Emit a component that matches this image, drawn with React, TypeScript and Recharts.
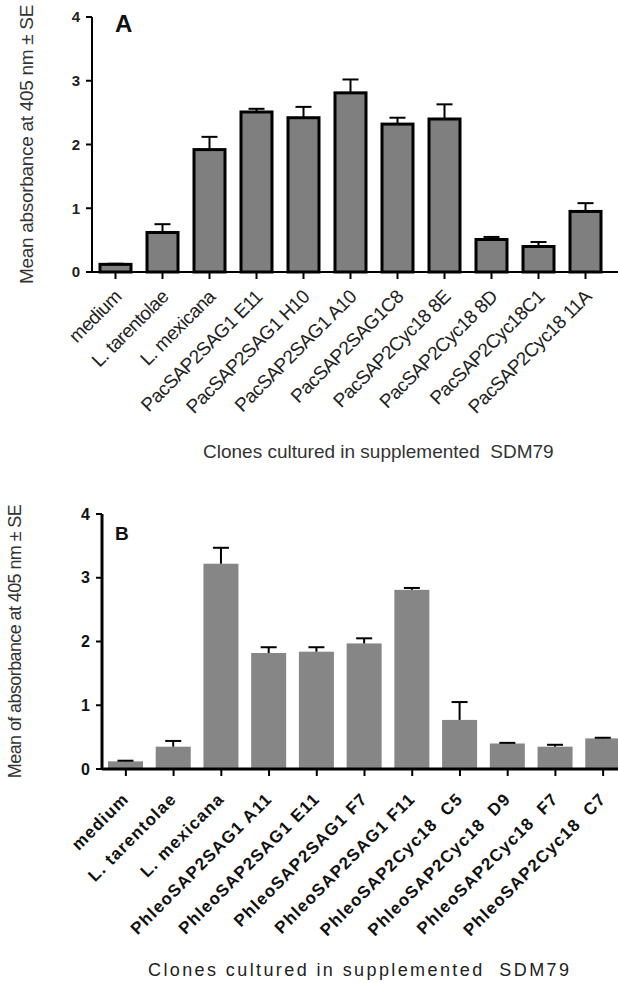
import React from 'react';
import { BarChart, Bar, XAxis, YAxis, Label } from 'recharts';

const FONT = '"Liberation Sans", Arial, sans-serif';

// panel A
const clonesA = [
  'medium',
  'L. tarentolae',
  'L. mexicana',
  'PacSAP2SAG1 E11',
  'PacSAP2SAG1 H10',
  'PacSAP2SAG1 A10',
  'PacSAP2SAG1C8',
  'PacSAP2Cyc18 8E',
  'PacSAP2Cyc18 8D',
  'PacSAP2Cyc18C1',
  'PacSAP2Cyc18 11A',
];
const meanA = [0.12, 0.62, 1.92, 2.51, 2.42, 2.81, 2.32, 2.4, 0.51, 0.4, 0.95];
const seA = [0.01, 0.13, 0.2, 0.05, 0.17, 0.21, 0.1, 0.23, 0.04, 0.07, 0.13];

// panel B
const clonesB = [
  'medium',
  'L. tarentolae',
  'L. mexicana',
  'PhleoSAP2SAG1 A11',
  'PhleoSAP2SAG1 E11',
  'PhleoSAP2SAG1 F7',
  'PhleoSAP2SAG1 F11',
  'PhleoSAP2Cyc18  C5',
  'PhleoSAP2Cyc18  D9',
  'PhleoSAP2Cyc18  F7',
  'PhleoSAP2Cyc18  C7',
];
const meanB = [0.12, 0.35, 3.22, 1.82, 1.84, 1.97, 2.81, 0.77, 0.4, 0.35, 0.48];
const seB = [0.01, 0.09, 0.25, 0.09, 0.07, 0.08, 0.03, 0.28, 0.01, 0.03, 0.01];

const yTicks = [0, 1, 2, 3, 4];

const rowsA = clonesA.map((name, i) => ({ name, mean: meanA[i], se: seA[i] }));
const rowsB = clonesB.map((name, i) => ({ name, mean: meanB[i], se: seB[i] }));

// bar + upper error whisker, whisker length taken from the bar's own px/unit
function barWithError(fill: string, stroke: string | undefined, strokeWidth: number) {
  return (props: any) => {
    const { x, y, width, height, payload } = props;
    const pxPerUnit = payload.mean ? height / payload.mean : 0;
    const top = y - payload.se * pxPerUnit;
    const cx = x + width / 2;
    return (
      <g>
        <rect x={x} y={y} width={width} height={height} fill={fill}
          stroke={stroke} strokeWidth={stroke ? strokeWidth : 0} />
        <line x1={cx} x2={cx} y1={y} y2={top} stroke="#000" strokeWidth={2} />
        <line x1={cx - 8} x2={cx + 8} y1={top} y2={top} stroke="#000" strokeWidth={2} />
      </g>
    );
  };
}

const TickA = (props: any) => {
  const { x, y, payload } = props;
  return (
    <g transform={`translate(${x + 7},${y + 17})`}>
      <text textAnchor="end" transform="rotate(-45)" fontFamily={FONT} fontSize={19}
        letterSpacing={-0.5} fill="#222" style={{ whiteSpace: 'pre' }}>
        {payload.value}
      </text>
    </g>
  );
};

const TickB = (props: any) => {
  const { x, y, payload } = props;
  return (
    <g transform={`translate(${x + 4},${y + 22})`}>
      <text textAnchor="end" transform="rotate(-45)" fontFamily={FONT} fontSize={17}
        fontWeight="bold" letterSpacing={1.2} fill="#111" style={{ whiteSpace: 'pre' }}>
        {payload.value}
      </text>
    </g>
  );
};

function ChartA() {
  return (
    <BarChart width={618} height={480} data={rowsA}
      margin={{ top: 17, right: 0, bottom: 0, left: 0 }}>
      <XAxis dataKey="name" interval={0} height={208} tick={<TickA />}
        padding={{ left: 0, right: 9 }}
        axisLine={{ stroke: '#000', strokeWidth: 2 }}
        tickLine={{ stroke: '#000', strokeWidth: 2 }} tickSize={7}>
        <Label content={() => (
          <text x={203} y={458} fontFamily={FONT} fontSize={19}
            fill="#333" style={{ whiteSpace: 'pre' }}>
            Clones cultured in supplemented  SDM79
          </text>
        )} />
      </XAxis>
      <YAxis domain={[0, 4]} ticks={yTicks} width={92} interval={0}
        axisLine={{ stroke: '#000', strokeWidth: 2 }}
        tickLine={{ stroke: '#000', strokeWidth: 2 }} tickSize={6} tickMargin={6}
        tick={{ fontFamily: FONT, fontSize: 15, fontWeight: 'bold', fill: '#222' }}>
        <Label content={(p: any) => {
          const vb = p.viewBox;
          const cy = vb.y + vb.height / 2;
          return (
            <g>
              <text x={26} y={cy} transform={`rotate(-90, 26, ${cy})`} textAnchor="middle"
                dominantBaseline="central" fontFamily={FONT} fontSize={19} letterSpacing={-0.3}
                fill="#333">
                Mean absorbance at 405 nm ± SE
              </text>
              <text x={115} y={32} fontFamily={FONT} fontSize={24} fontWeight="bold" fill="#111">A</text>
            </g>
          );
        }} />
      </YAxis>
      <Bar dataKey="mean" barSize={31} isAnimationActive={false}
        shape={barWithError('#7f7f7f', '#000', 3)} />
    </BarChart>
  );
}

function ChartB() {
  return (
    <BarChart width={627} height={503} data={rowsB}
      margin={{ top: 34, right: 0, bottom: 0, left: 0 }}>
      <XAxis dataKey="name" interval={0} height={214} tick={<TickB />}
        axisLine={{ stroke: '#000', strokeWidth: 3 }}
        tickLine={{ stroke: '#000', strokeWidth: 2 }} tickSize={7}>
        <Label content={() => (
          <text x={148} y={496} fontFamily={FONT} fontSize={18} letterSpacing={2.4}
            fill="#222" style={{ whiteSpace: 'pre' }}>
            Clones cultured in supplemented  SDM79
          </text>
        )} />
      </XAxis>
      <YAxis domain={[0, 4]} ticks={yTicks} width={102} interval={0}
        axisLine={{ stroke: '#000', strokeWidth: 3 }}
        tickLine={{ stroke: '#000', strokeWidth: 2 }} tickSize={6} tickMargin={6}
        tick={{ fontFamily: FONT, fontSize: 16, fontWeight: 'bold', fill: '#111' }}>
        <Label content={(p: any) => {
          const vb = p.viewBox;
          const cy = vb.y + vb.height / 2;
          return (
            <g>
              <text x={15} y={cy} transform={`rotate(-90, 15, ${cy})`} textAnchor="middle"
                dominantBaseline="central" fontFamily={FONT} fontSize={18} letterSpacing={-0.6}
                fill="#333">
                Mean of absorbance at 405 nm ± SE
              </text>
              <text x={115} y={60} fontFamily={FONT} fontSize={19} fontWeight="bold" fill="#111">B</text>
            </g>
          );
        }} />
      </YAxis>
      <Bar dataKey="mean" barSize={35} isAnimationActive={false}
        shape={barWithError('#868686', undefined, 0)} />
    </BarChart>
  );
}

export default function App() {
  return (
    <div style={{ position: 'absolute', left: 0, top: 0, width: 618, height: 983,
      overflow: 'hidden', background: '#fff' }}>
      <div style={{ position: 'absolute', left: 0, top: 0 }}>
        <ChartA />
      </div>
      <div style={{ position: 'absolute', left: 0, top: 480 }}>
        <ChartB />
      </div>
    </div>
  );
}
